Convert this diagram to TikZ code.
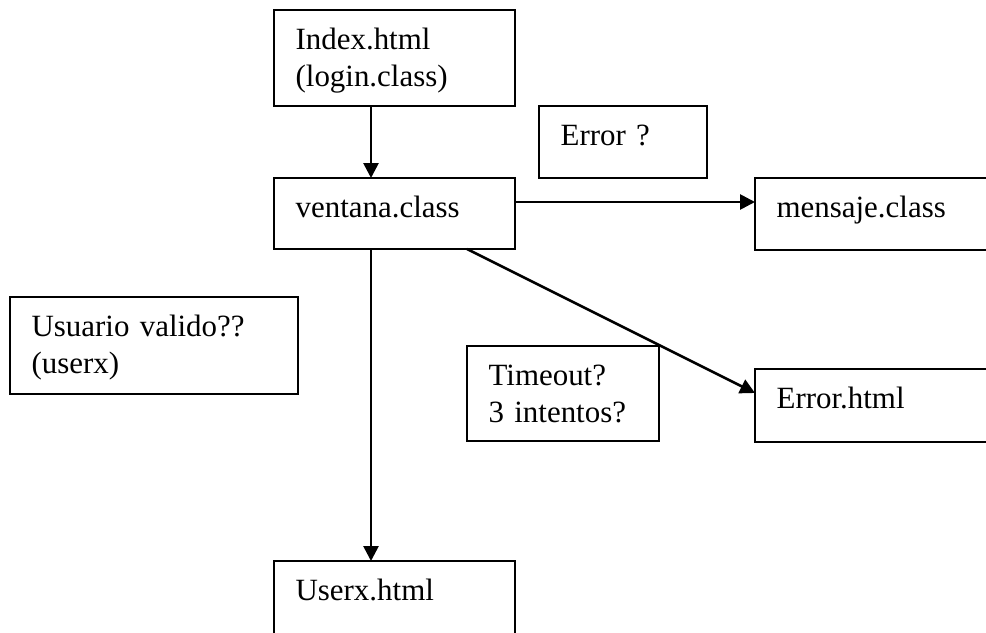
\documentclass[tikz,border=0pt]{standalone}
\usepackage{fontspec}
\setmainfont{Liberation Serif}
\usetikzlibrary{arrows.meta, positioning}

\begin{document}
\begin{tikzpicture}[
  flowbox/.style={draw, line width=1.9pt, anchor=north west, outer sep=0pt, align=left, inner xsep=0.54cm, inner ysep=0pt, text height=0.99cm, font=\fontsize{22}{26}\selectfont},
  flowarrow/.style={line width=1.9pt, -{Triangle[length=0.37cm, width=0.37cm]}}
]
  \useasboundingbox (0,0) rectangle (24.65,-15.825);

  % Login page and the main window
  \node[flowbox, text width=4.945cm, text depth=1.41cm] (index) at (6.85,-0.25) {Index.html\\(login.class)};
  \node[flowbox, text width=4.945cm, text depth=0.785cm] (ventana) at (6.85,-4.45) {ventana.class};

  % Error branch
  \node[flowbox, text width=3.12cm, text depth=0.81cm] (errq) at (13.475,-2.65) {Error ?};
  \node[flowbox, text width=5.045cm, text depth=0.81cm] (mensaje) at (18.875,-4.45) {mensaje.class};

  % Conditions
  \node[flowbox, text width=6.12cm, text depth=1.435cm] (usuario) at (0.25,-7.425) {Usuario valido??\\(userx)};
  \node[flowbox, text width=3.72cm, text depth=1.385cm] (timeout) at (11.675,-8.65) {Timeout?\\3 intentos?};

  % Result pages
  \node[flowbox, text width=5.045cm, text depth=0.835cm] (errhtml) at (18.875,-9.225) {Error.html};
  \node[flowbox, text width=4.945cm, text depth=0.91cm] (userx) at (6.85,-14.025) {Userx.html};

  % Arrows
  \draw[flowarrow] ([xshift=-0.5875cm]index.south) -- ([xshift=-0.5875cm]ventana.north);
  \draw[flowarrow] ([yshift=0.2875cm]ventana.east) -- ([yshift=0.2875cm]ventana.east -| mensaje.west);
  \draw[flowarrow] ([xshift=-0.5875cm]ventana.south) -- ([xshift=-0.5875cm]userx.north);
  \draw[flowarrow] ([xshift=1.8125cm]ventana.south) -- ([yshift=0.3125cm]errhtml.west);
\end{tikzpicture}
\end{document}
